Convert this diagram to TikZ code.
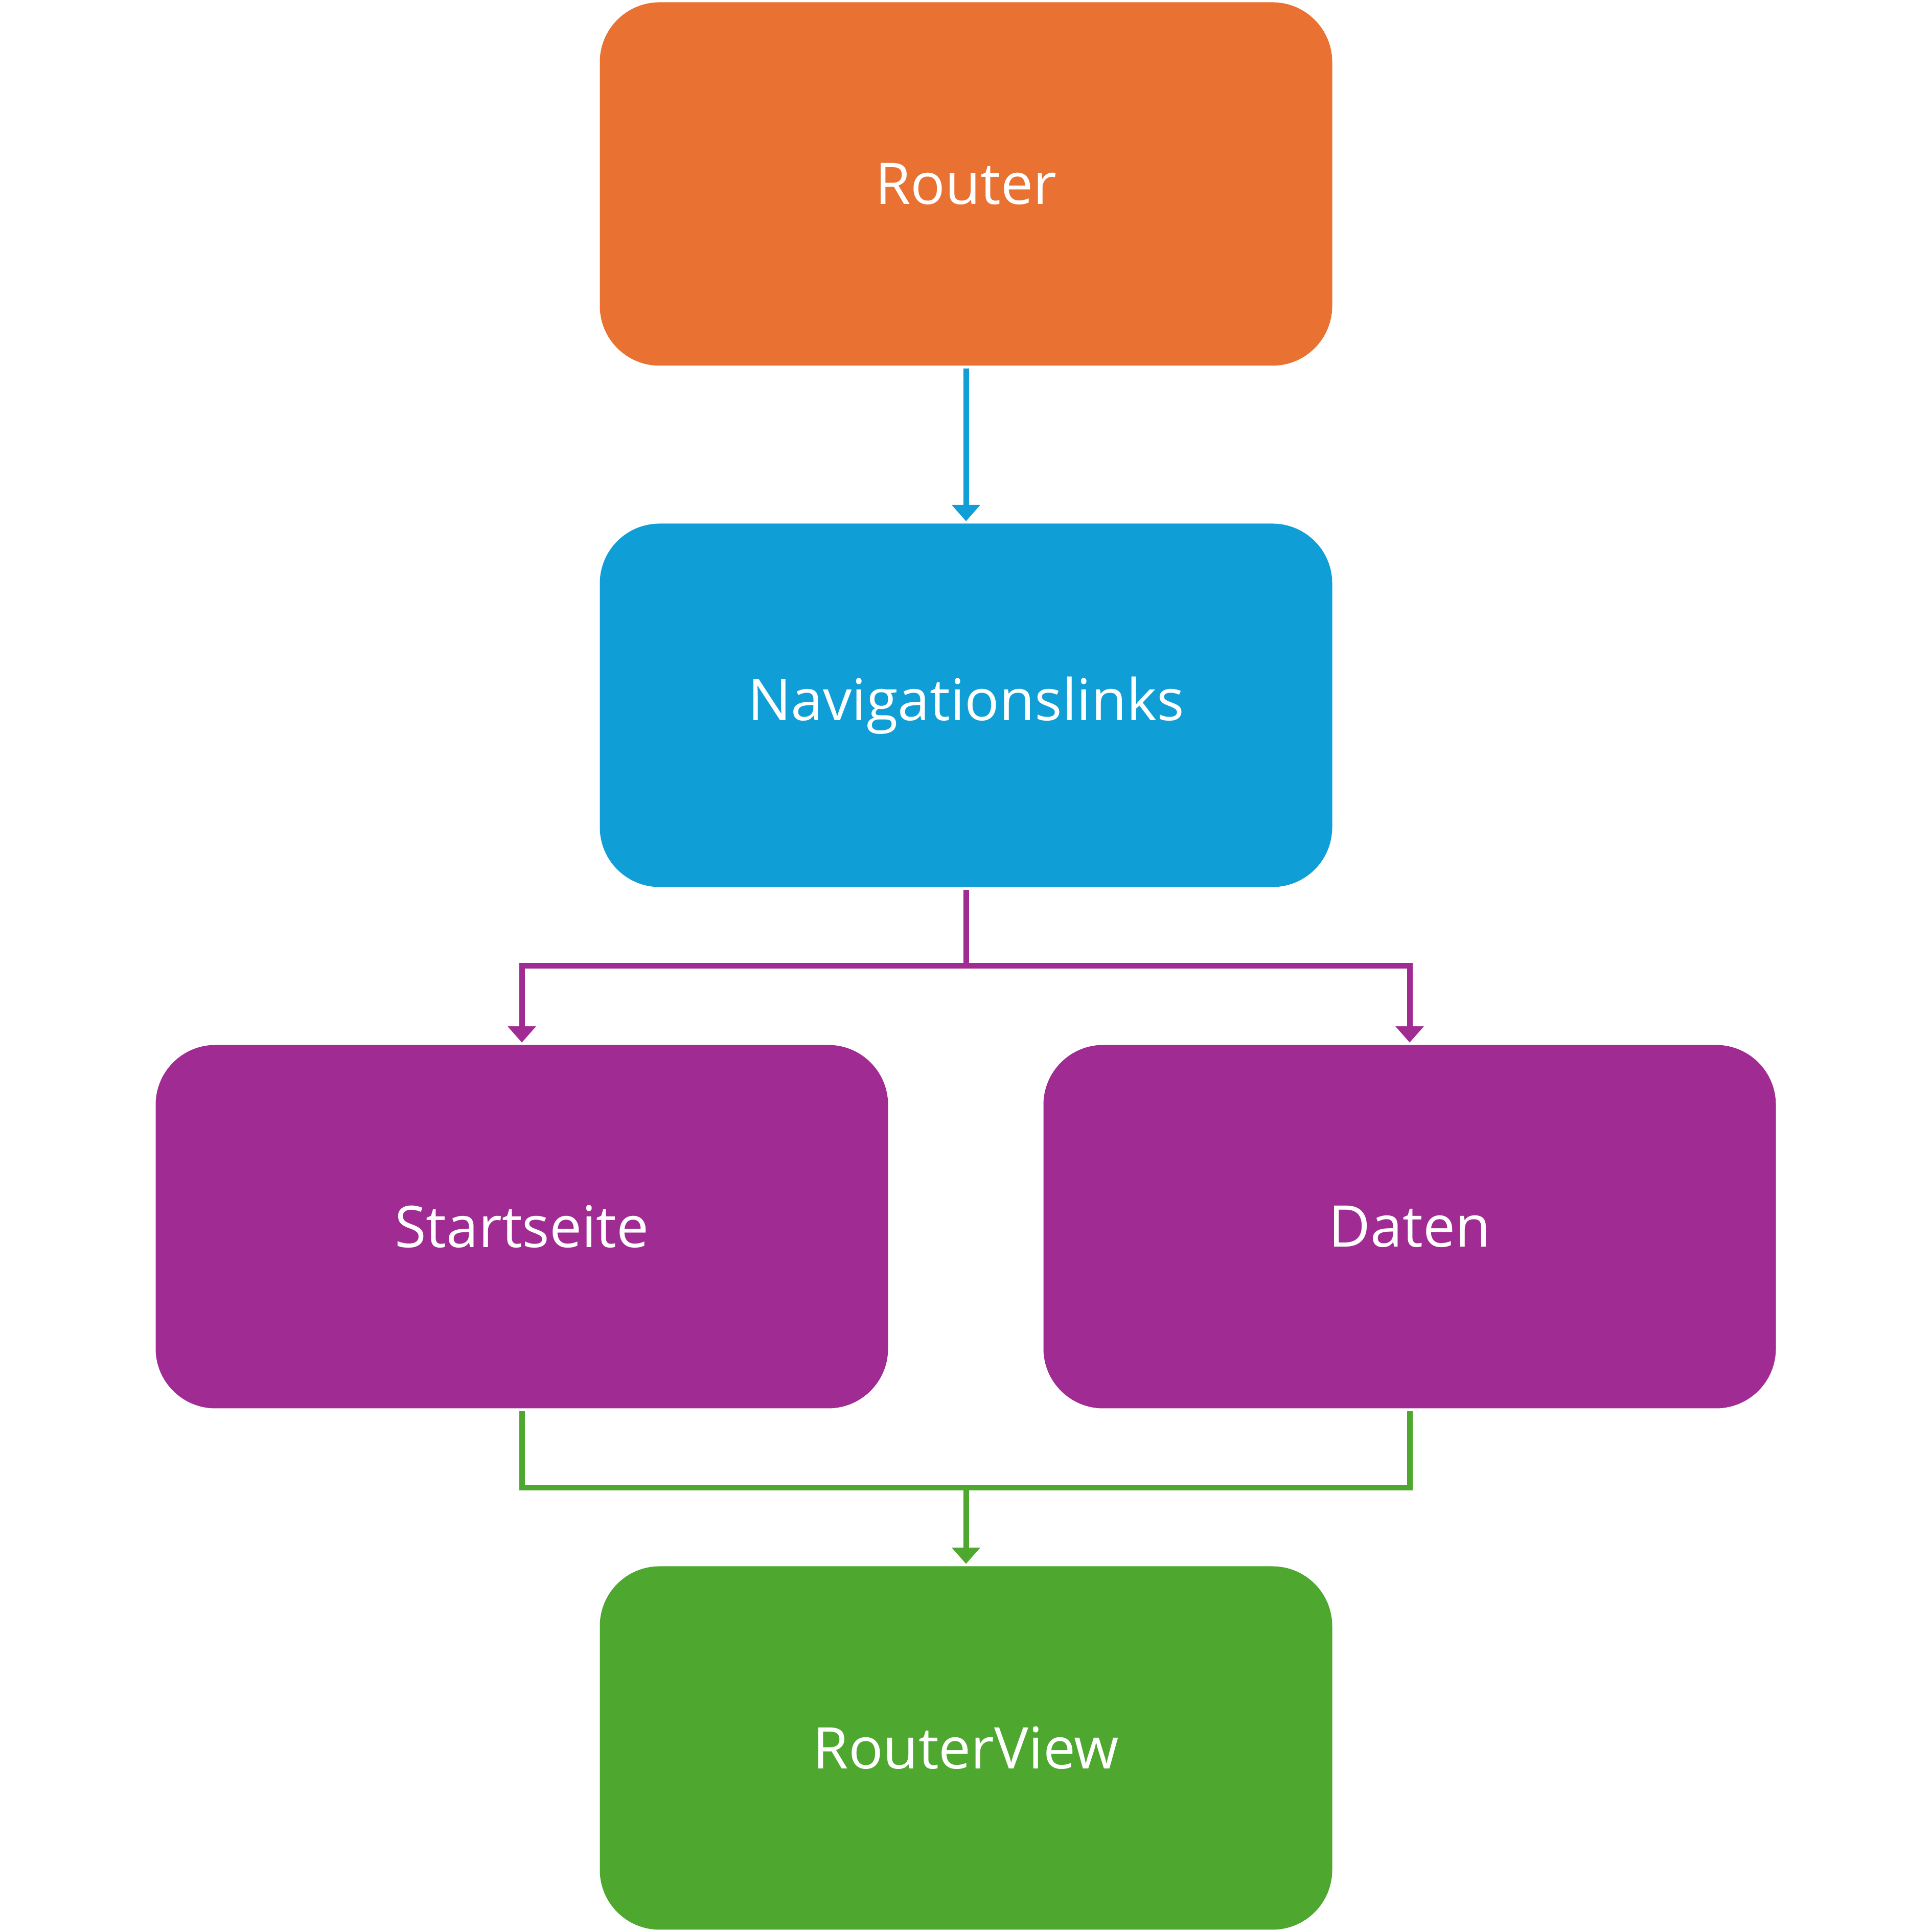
\documentclass[tikz,border=0pt]{standalone}
\usepackage{fontspec}
\setmainfont{Open Sans}
\usepackage{tikz}
\usetikzlibrary{arrows.meta}
\definecolor{routerorange}{HTML}{E97132}
\definecolor{navblue}{HTML}{0F9ED5}
\definecolor{pagepurple}{HTML}{A02B93}
\definecolor{viewgreen}{HTML}{4EA72E}
\tikzset{
    every node/.style={rectangle, rounded corners=1.17cm, minimum width=14.33cm,
    	minimum height=7.11cm, inner sep=0pt, text=white,
    	font=\fontsize{32}{38}\selectfont}
}
\tikzset{
    link/.style={line width=1.1mm, shorten <=0.05cm},
    linkarrow/.style={link, -{Triangle[width=5.4mm,length=3.2mm]}, shorten >=0.04cm}
}

\begin{document}
\begin{tikzpicture}
  \useasboundingbox (0,0) rectangle (37.8,37.8);
  \node (router) [fill=routerorange] at (18.9, 34.2) {Router};
  \node (nav) [fill=navblue] at (18.9, 24.0) {Navigationslinks};
  \node (start) [fill=pagepurple] at (10.21, 13.8) {Startseite};
  \node (daten) [fill=pagepurple] at (27.58, 13.8) {Daten};
  \node (view) [fill=viewgreen] at (18.9, 3.6) {RouterView};
  \coordinate (split) at (18.9, 18.9);
  \coordinate (join) at (18.9, 8.69);

  \draw [linkarrow, navblue] (router.south) -- (nav.north);
  \draw [link, pagepurple] (nav.south) -- (split);
  \draw [linkarrow, pagepurple, shorten <=0pt] (split) -| (start.north);
  \draw [linkarrow, pagepurple, shorten <=0pt] (split) -| (daten.north);
  \draw [link, viewgreen] (start.south) |- (join);
  \draw [link, viewgreen] (daten.south) |- (join);
  \draw [linkarrow, viewgreen, shorten <=0pt] (join) -- (view.north);
\end{tikzpicture}
\end{document}
